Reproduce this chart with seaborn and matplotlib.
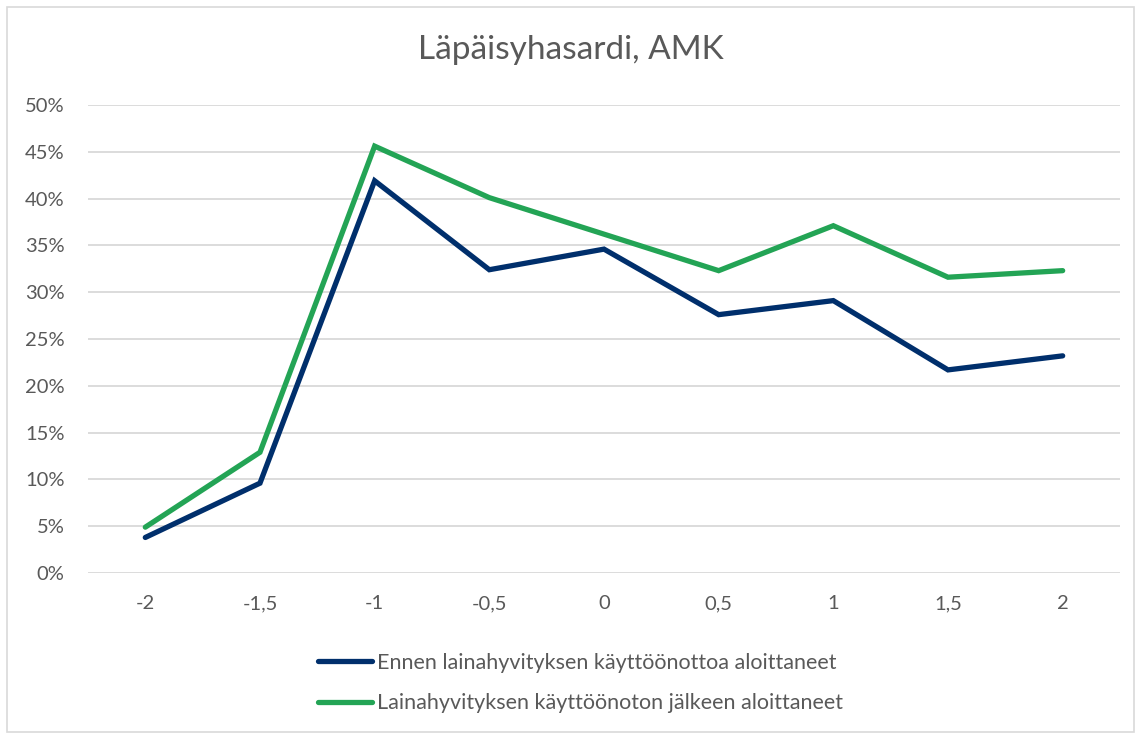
import matplotlib
matplotlib.use("Agg")
import matplotlib.pyplot as plt
import seaborn as sns
import pandas as pd
from matplotlib.ticker import PercentFormatter
from matplotlib.patches import Rectangle

# arvot luettu kuvasta
x_labels = ["-2", "-1,5", "-1", "-0,5", "0", "0,5", "1", "1,5", "2"]
ennen = [3.8, 9.6, 41.9, 32.4, 34.6, 27.6, 29.1, 21.7, 23.2]
jalkeen = [4.9, 12.9, 45.6, 40.1, 36.2, 32.3, 37.1, 31.6, 32.3]
sarjat = ["Ennen lainahyvityksen käyttöönottoa aloittaneet",
          "Lainahyvityksen käyttöönoton jälkeen aloittaneet"]
varit = ["#002F6C", "#23A455"]

df = pd.DataFrame({
    "x": x_labels * 2,
    "arvo": ennen + jalkeen,
    "sarja": [sarjat[0]] * len(ennen) + [sarjat[1]] * len(jalkeen),
})

sns.set_style("white")
plt.rcParams["font.family"] = ["Lato", "DejaVu Sans"]
teksti = "#595959"

fig = plt.figure(figsize=(11.41, 7.34), dpi=100)
ax = fig.add_axes([0.0771, 0.2193, 0.9045, 0.6377])

sns.lineplot(data=df, x="x", y="arvo", hue="sarja", palette=varit,
             linewidth=3.8, sort=False, ax=ax, legend=False,
             solid_capstyle="round", solid_joinstyle="miter")

ax.set_xlim(-0.5, len(x_labels) - 0.5)
ax.set_ylim(0, 50)
ax.set_yticks(range(0, 51, 5))
ax.yaxis.set_major_formatter(PercentFormatter(decimals=0))
ax.grid(axis="y", color="#D9D9D9", linewidth=1.3)
ax.set_axisbelow(True)
for s in ax.spines.values():
    s.set_visible(False)
ax.tick_params(axis="both", length=0, labelsize=14.5, colors=teksti)
ax.tick_params(axis="x", pad=16)
ax.tick_params(axis="y", pad=17)
ax.set_xlabel("")
ax.set_ylabel("")

fig.text(0.5, 0.932, "Läpäisyhasardi, AMK", ha="center", va="center",
         fontsize=24, color=teksti)

kahvat = [plt.Line2D([], [], color=c, linewidth=3.8, solid_capstyle="round") for c in varit]
leg = fig.legend(kahvat, sarjat, loc="upper center", bbox_to_anchor=(0.509, 0.137),
                 frameon=False, fontsize=15.5, handlelength=2.5, handletextpad=0.25,
                 labelspacing=0.95)
for t in leg.get_texts():
    t.set_color(teksti)

fig.patches.append(Rectangle((0.006, 0.003), 0.988, 0.987, transform=fig.transFigure,
                             fill=False, edgecolor="#D9D9D9", linewidth=1.2))

fig.savefig("out.png", dpi=100, facecolor="white")
